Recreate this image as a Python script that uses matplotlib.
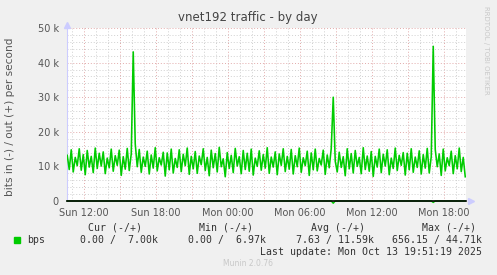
import numpy as np
import matplotlib
matplotlib.use('Agg')
import matplotlib.pyplot as plt
from matplotlib.ticker import MultipleLocator, FixedLocator

# out traffic in thousands of bits per second, one sample every 10 minutes
out_k = [
    13.2, 9.1, 14.8, 8.4, 12.6, 10.2, 15.1, 8.9, 13.4, 7.6, 14.6, 9.8, 12.9, 8.2, 15.3, 9.4, 13.8, 10.1, 14.2, 7.9,
    12.4, 9.6, 15.0, 8.6, 13.1, 10.3, 14.7, 7.4, 12.8, 9.2, 15.2, 8.8, 13.6, 43.1, 16.5, 9.9, 14.9, 8.3, 12.7, 10.0,
    14.4, 7.8, 13.3, 9.5, 15.4, 8.7, 12.5, 10.4, 14.1, 7.2, 13.9, 9.0, 15.0, 8.1, 12.3, 9.7, 14.8, 8.5, 13.5, 10.2,
    15.3, 7.7, 12.9, 9.3, 14.3, 8.0, 13.0, 10.5, 15.1, 8.8, 12.6, 7.3, 14.7, 9.6, 13.7, 8.4, 15.5, 9.9, 12.2, 7.0,
    14.0, 9.4, 13.2, 8.2, 15.2, 10.1, 12.8, 7.9, 14.6, 9.1, 13.8, 8.6, 15.0, 7.5, 12.4, 10.0, 14.5, 8.9, 13.4, 9.5,
    15.4, 8.0, 12.7, 9.8, 14.2, 7.6, 13.6, 10.3, 15.1, 8.5, 12.9, 9.2, 14.9, 7.8, 13.1, 9.9, 15.3, 8.3, 12.5, 10.2,
    14.4, 7.4, 13.9, 9.0, 15.0, 8.7, 12.3, 10.4, 14.7, 7.7, 13.3, 9.6, 15.2, 30.0, 11.5, 8.4, 14.1, 9.7, 12.8, 7.3,
    15.1, 9.3, 13.7, 8.1, 14.6, 10.0, 12.6, 7.9, 15.4, 9.1, 13.0, 8.6, 14.3, 7.1, 12.9, 9.8, 15.0, 8.2, 13.5, 10.1,
    14.8, 7.6, 12.4, 9.4, 15.3, 8.8, 13.2, 10.3, 14.0, 7.5, 13.8, 9.0, 15.1, 8.3, 12.7, 9.7, 14.5, 7.8, 13.4, 9.5,
    15.2, 8.1, 12.8, 44.71, 14.9, 9.9, 13.6, 7.4, 15.0, 8.7, 12.5, 10.2, 14.4, 7.9, 13.1, 9.3, 15.3, 8.5, 12.6, 7.0,
]
# in traffic (drawn negative), almost always zero
in_bps = [0.0] * len(out_k)
in_bps[133] = 656.15
in_bps[183] = 420.0

start_hour = 10.6          # Sun 10:36, hours since Sun 00:00
step_hour = 1 / 6
x_range = (10.58, 43.83)

tick_hours = [12, 18, 24, 30, 36, 42]
tick_labels = ['Sun 12:00', 'Sun 18:00', 'Mon 00:00', 'Mon 06:00', 'Mon 12:00', 'Mon 18:00']
y_ticks = [0, 10000, 20000, 30000, 40000, 50000]
y_labels = ['0', '10 k', '20 k', '30 k', '40 k', '50 k']

legend_head = ['Cur (-/+)', 'Min (-/+)', 'Avg (-/+)', 'Max (-/+)']
legend_vals = ['0.00 /  7.00k', '0.00 /  6.97k', '7.63 / 11.59k', '656.15 / 44.71k']

bg = '#f0f0f0'
green = '#00cc00'
W, H = 497, 275

fig = plt.figure(figsize=(W / 100, H / 100), dpi=100, facecolor=bg)
ax = fig.add_axes([67 / W, (H - 201) / H, 399 / W, 173 / H])
ax.set_facecolor('white')

hours = start_hour + np.arange(len(out_k)) * step_hour
out_vals = np.array(out_k) * 1000
in_vals = -np.array(in_bps)

# grid: grey every hour / 2k, red every 3 hours / 10k
for h in np.arange(11, 44, 1):
    col = '#e2aaaa' if h % 3 == 0 else '#d0d0d0'
    ax.axvline(h, color=col, lw=0.7, ls=(0, (1, 2)), zorder=0)
for v in np.arange(2000, 50001, 2000):
    col = '#e2aaaa' if v % 10000 == 0 else '#d0d0d0'
    ax.axhline(v, color=col, lw=0.7, ls=(0, (1, 2)), zorder=0)

ax.plot(hours, out_vals, color=green, lw=1.15, zorder=3)
ax.plot(hours, in_vals, color=green, lw=1.0, zorder=3, clip_on=False)
ax.axhline(0, color='black', lw=1.2, zorder=4, clip_on=False)

ax.set_xlim(*x_range)
ax.set_ylim(0, 50000)
ax.set_xticks(tick_hours)
ax.set_xticklabels(tick_labels)
ax.set_yticks(y_ticks)
ax.set_yticklabels(y_labels)
ax.tick_params(axis='both', which='both', length=0, labelsize=7, colors='#555555')
ax.tick_params(axis='x', pad=5)
ax.tick_params(axis='y', pad=6)

for s in ['top', 'right', 'bottom']:
    ax.spines[s].set_visible(False)
ax.spines['left'].set_color('#ccccff')
ax.plot([0], [1.02], marker='^', color='#ccccff', ms=5, transform=ax.transAxes, clip_on=False)
ax.plot([1.012], [0], marker='>', color='#ccccff', ms=5, transform=ax.transAxes, clip_on=False)

fig.text(248 / W, 1 - 17 / H, 'vnet192 traffic - by day', ha='center', va='center',
         fontsize=8.5, color='#444444')
fig.text(10 / W, 1 - 117 / H, 'bits in (-) / out (+) per second', rotation=90,
         ha='center', va='center', fontsize=7.6, color='#555555')
fig.text(486 / W, 1 - 6 / H, 'RRDTOOL / TOBI OETIKER', rotation=270,
         ha='center', va='top', fontsize=5, color='#c8c8c8')

mono = 'DejaVu Sans Mono'
head_right = [142, 253, 365, 476]
val_right = [158, 266, 374, 482]
for txt, xr in zip(legend_head, head_right):
    fig.text(xr / W, 1 - 228 / H, txt, ha='right', va='center', family=mono,
             fontsize=7.1, color='#333333')
fig.patches.append(plt.Rectangle((14 / W, 1 - 243 / H), 6 / W, 6 / H, color=green,
                                 transform=fig.transFigure, figure=fig))
fig.text(27 / W, 1 - 240 / H, 'bps', ha='left', va='center', family=mono,
         fontsize=7.1, color='#333333')
for txt, xr in zip(legend_vals, val_right):
    fig.text(xr / W, 1 - 240 / H, txt, ha='right', va='center', family=mono,
             fontsize=7.1, color='#333333')
fig.text(482 / W, 1 - 252 / H, 'Last update: Mon Oct 13 19:51:19 2025', ha='right',
         va='center', family=mono, fontsize=7.1, color='#333333')
fig.text(248 / W, 1 - 264 / H, 'Munin 2.0.76', ha='center', va='center',
         fontsize=5.5, color='#c8c8c8')

fig.savefig('out.png', dpi=100, facecolor=bg)
